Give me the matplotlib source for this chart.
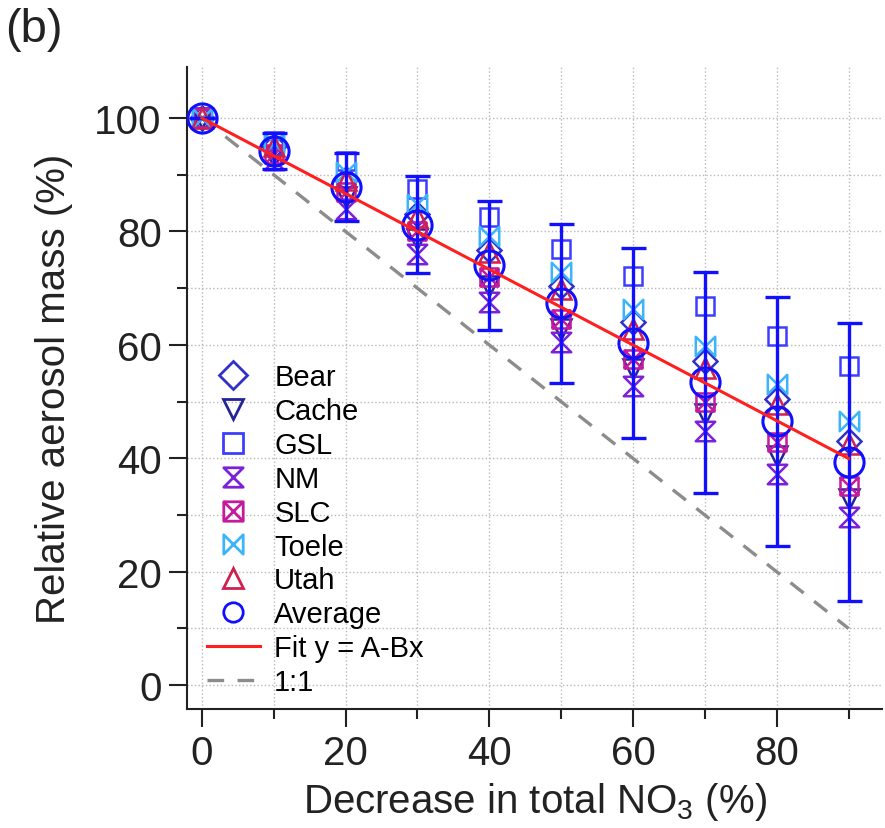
import numpy as np
import matplotlib
matplotlib.use('Agg')
import matplotlib.pyplot as plt
from matplotlib.path import Path
from matplotlib.ticker import MultipleLocator

plt.rcParams['font.family'] = ['Liberation Sans', 'DejaVu Sans']
plt.rcParams['mathtext.default'] = 'regular'

# decrease in total NO3 (%)
x = [0, 10, 20, 30, 40, 50, 60, 70, 80, 90]

bear = [100, 95.0, 89.3, 83.0, 76.8, 70.4, 64.0, 57.2, 50.4, 43.1]
cache = [100, 93.2, 86.0, 78.6, 70.4, 62.8, 55.7, 47.8, 40.4, 32.8]
gsl = [100, 96.0, 92.4, 87.5, 82.5, 76.9, 72.2, 66.9, 61.6, 56.3]
nm = [100, 92.6, 84.0, 76.0, 67.5, 60.5, 52.7, 44.9, 37.2, 29.6]
slc = [100, 93.6, 87.0, 80.0, 72.0, 64.5, 57.5, 49.9, 42.9, 35.1]
toele = [100, 95.6, 90.4, 84.8, 79.2, 72.8, 66.3, 59.8, 53.1, 46.6]
utah = [100, 95.0, 89.0, 82.5, 76.3, 69.8, 62.8, 56.0, 49.6, 42.5]
average = [100, 94.2, 87.8, 81.2, 74.0, 67.3, 60.3, 53.4, 46.5, 39.3]
average_err = [0, 3.2, 6.0, 8.5, 11.4, 14.0, 16.7, 19.5, 22.0, 24.5]

# fit y = A - Bx
fit_A = 100.0
fit_B = 0.667

# custom marker shapes
hourglass = Path([(-1, 1), (1, 1), (-1, -1), (1, -1), (-1, 1)],
                 [Path.MOVETO, Path.LINETO, Path.LINETO, Path.LINETO, Path.CLOSEPOLY])
bowtie = Path([(-1, 1), (1, -1), (1, 1), (-1, -1), (-1, 1)],
              [Path.MOVETO, Path.LINETO, Path.LINETO, Path.LINETO, Path.CLOSEPOLY])
boxx = Path([(-1, -1), (1, -1), (1, 1), (-1, 1), (-1, -1),
             (-1, -1), (1, 1), (-1, 1), (1, -1)],
            [Path.MOVETO, Path.LINETO, Path.LINETO, Path.LINETO, Path.CLOSEPOLY,
             Path.MOVETO, Path.LINETO, Path.MOVETO, Path.LINETO])

fig = plt.figure(figsize=(8.85, 8.29), dpi=100)
ax = fig.add_axes([0.211, 0.1435, 0.786, 0.7745])

stations = [
    ('Bear', bear, 'D', '#3131c8', 12),
    ('Cache', cache, 'v', '#23239a', 14),
    ('GSL', gsl, 's', '#3d3dff', 13),
    ('NM', nm, hourglass, '#7b22d8', 14),
    ('SLC', slc, boxx, '#c41a9c', 13),
    ('Toele', toele, bowtie, '#3cb4fa', 14),
    ('Utah', utah, '^', '#d0204e', 15),
]

for name, vals, mk, col, ms in stations:
    ax.plot(x, vals, linestyle='none', marker=mk, markersize=ms,
            markerfacecolor='none', markeredgecolor=col, markeredgewidth=1.8,
            label=name, zorder=3)

ax.errorbar(x, average, yerr=average_err, fmt='none', ecolor='#1010ff',
            elinewidth=2.4, capsize=9, capthick=2.4, zorder=4)
ax.plot(x, average, linestyle='none', marker='o', markersize=21, markerfacecolor='none',
        markeredgecolor='#1010ff', markeredgewidth=2.2, label='Average', zorder=4)

xf = np.array([x[0], x[-1]])
ax.plot(xf, fit_A - fit_B * xf, color='#ff1f1f', lw=2.2, label='Fit y = A-Bx', zorder=5)
ax.plot(xf, 100 - xf, color='#8c8c8c', lw=2.4, ls=(0, (5, 4)), label='1:1', zorder=2)

ax.set_xlim(-2.1, 94.7)
ax.set_ylim(-4.2, 109)
ax.xaxis.set_major_locator(MultipleLocator(20))
ax.xaxis.set_minor_locator(MultipleLocator(10))
ax.yaxis.set_major_locator(MultipleLocator(20))
ax.yaxis.set_minor_locator(MultipleLocator(10))
ax.grid(which='both', color='#b8b8b8', ls=':', lw=1.0, zorder=0)
ax.set_axisbelow(True)

for s in ['top', 'right']:
    ax.spines[s].set_visible(False)
for s in ['left', 'bottom']:
    ax.spines[s].set_linewidth(1.5)
    ax.spines[s].set_color('#222222')

ax.tick_params(which='major', direction='out', length=13, width=1.5, labelsize=29,
               pad=5, colors='#222222')
ax.tick_params(which='minor', direction='out', length=7, width=1.5, colors='#222222')

ax.set_xlabel('Decrease in total NO$_3$ (%)', fontsize=29, color='#222222', labelpad=6)
ax.set_ylabel('Relative aerosol mass (%)', fontsize=29, color='#222222', labelpad=15)

leg = ax.legend(loc='upper left', bbox_to_anchor=(0.0, 0.57), frameon=False,
                fontsize=21, labelspacing=0.2, handlelength=1.8, handletextpad=0.5,
                borderaxespad=0.3)
for h in leg.legend_handles:
    if h.get_marker() not in (None, 'None', ''):
        h.set_markersize(14)
        h.set_markeredgewidth(2.0)

fig.text(0.006, 0.99, '(b)', fontsize=34, ha='left', va='top', color='#222222')

fig.savefig('out.png', dpi=100)
